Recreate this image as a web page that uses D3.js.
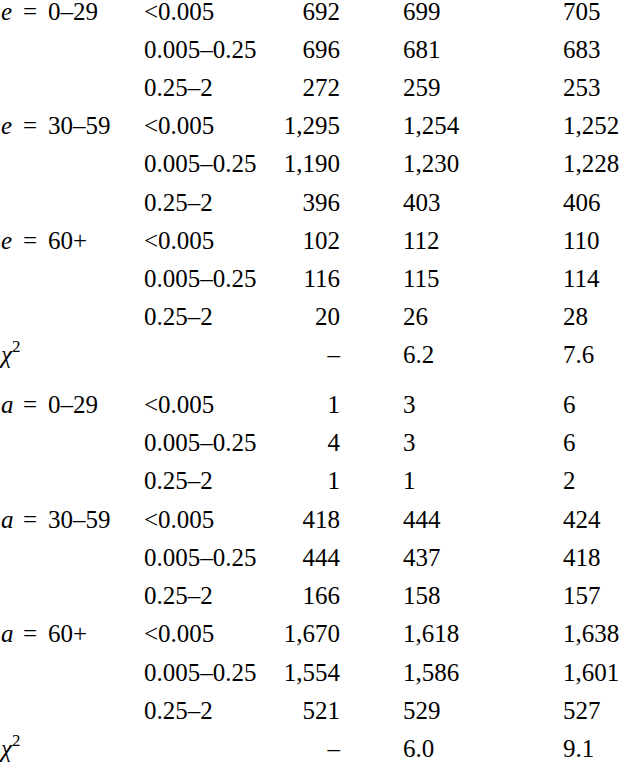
<!DOCTYPE html>
<html><head><meta charset="utf-8">
<script src="https://cdn.jsdelivr.net/npm/d3@7"></script>
<style>body{margin:0;background:#fff}svg{display:block}</style>
</head><body>
<script>
const ageGroups = ["0–29", "30–59", "60+"];
const doseRanges = ["<0.005", "0.005–0.25", "0.25–2"];
const blockVars = ["e", "a"];
const observedE = [692, 696, 272, 1295, 1190, 396, 102, 116, 20];
const model1E = [699, 681, 259, 1254, 1230, 403, 112, 115, 26];
const model2E = [705, 683, 253, 1252, 1228, 406, 110, 114, 28];
const observedA = [1, 4, 1, 418, 444, 166, 1670, 1554, 521];
const model1A = [3, 3, 1, 444, 437, 158, 1618, 1586, 529];
const model2A = [6, 6, 2, 424, 418, 157, 1638, 1601, 527];
const chi2E = [null, 6.2, 7.6];
const chi2A = [null, 6.0, 9.1];

const W = 620, H = 762;
const svg = d3.select("body").append("svg").attr("width", W).attr("height", H);
const root = svg.append("g").attr("font-family", "'Liberation Serif'").attr("font-size", 25).attr("fill", "#000");
const fmt = d3.format(",");
const fmtChi = d3.format(".1f");

const rowIdx = d3.range(10);
const yBlock = [
  d3.scalePoint().domain(rowIdx).range([20, 363]),
  d3.scalePoint().domain(rowIdx).range([413, 757])
];
const xCol = d3.scaleOrdinal().domain(["label", "eq", "grp", "dose", "obs", "m1", "m2"]).range([1, 23, 48, 144, 340, 403, 563]);

const blocks = [
  {v: blockVars[0], obs: observedE, m1: model1E, m2: model2E, chi: chi2E},
  {v: blockVars[1], obs: observedA, m1: model1A, m2: model2A, chi: chi2A}
];

blocks.forEach((b, bi) => {
  const y = yBlock[bi];
  const g = root.append("g");
  const rows = d3.range(9).map(i => ({
    i, group: i % 3 === 0 ? ageGroups[i / 3] : null, dose: doseRanges[i % 3],
    obs: b.obs[i], m1: b.m1[i], m2: b.m2[i]
  }));
  rows.filter(r => r.group).forEach(r => {
    const t = g.append("text").attr("y", y(r.i));
    t.append("tspan").attr("x", xCol("label")).attr("font-style", "italic").text(b.v);
    t.append("tspan").attr("x", xCol("eq")).text("=");
    t.append("tspan").attr("x", xCol("grp")).text(r.group);
  });
  g.selectAll("text.dose").data(rows).join("text").attr("class", "dose")
    .attr("x", xCol("dose")).attr("y", r => y(r.i)).text(r => r.dose);
  g.selectAll("text.obs").data(rows).join("text").attr("class", "obs")
    .attr("x", xCol("obs")).attr("y", r => y(r.i)).attr("text-anchor", "end").text(r => fmt(r.obs));
  g.selectAll("text.m1").data(rows).join("text").attr("class", "m1")
    .attr("x", xCol("m1")).attr("y", r => y(r.i)).text(r => fmt(r.m1));
  g.selectAll("text.m2").data(rows).join("text").attr("class", "m2")
    .attr("x", xCol("m2")).attr("y", r => y(r.i)).text(r => fmt(r.m2));
  const cy = y(9);
  const ct = g.append("text").attr("x", xCol("label")).attr("y", cy);
  ct.append("tspan").attr("font-style", "italic").text("χ");
  ct.append("tspan").attr("dy", -11).attr("font-size", 17).text("2");
  const cols = ["obs", "m1", "m2"];
  b.chi.forEach((c, k) => {
    g.append("text").attr("x", xCol(cols[k])).attr("y", cy)
      .attr("text-anchor", k === 0 ? "end" : "start")
      .text(c == null ? "–" : fmtChi(c));
  });
});
</script>
</body></html>
